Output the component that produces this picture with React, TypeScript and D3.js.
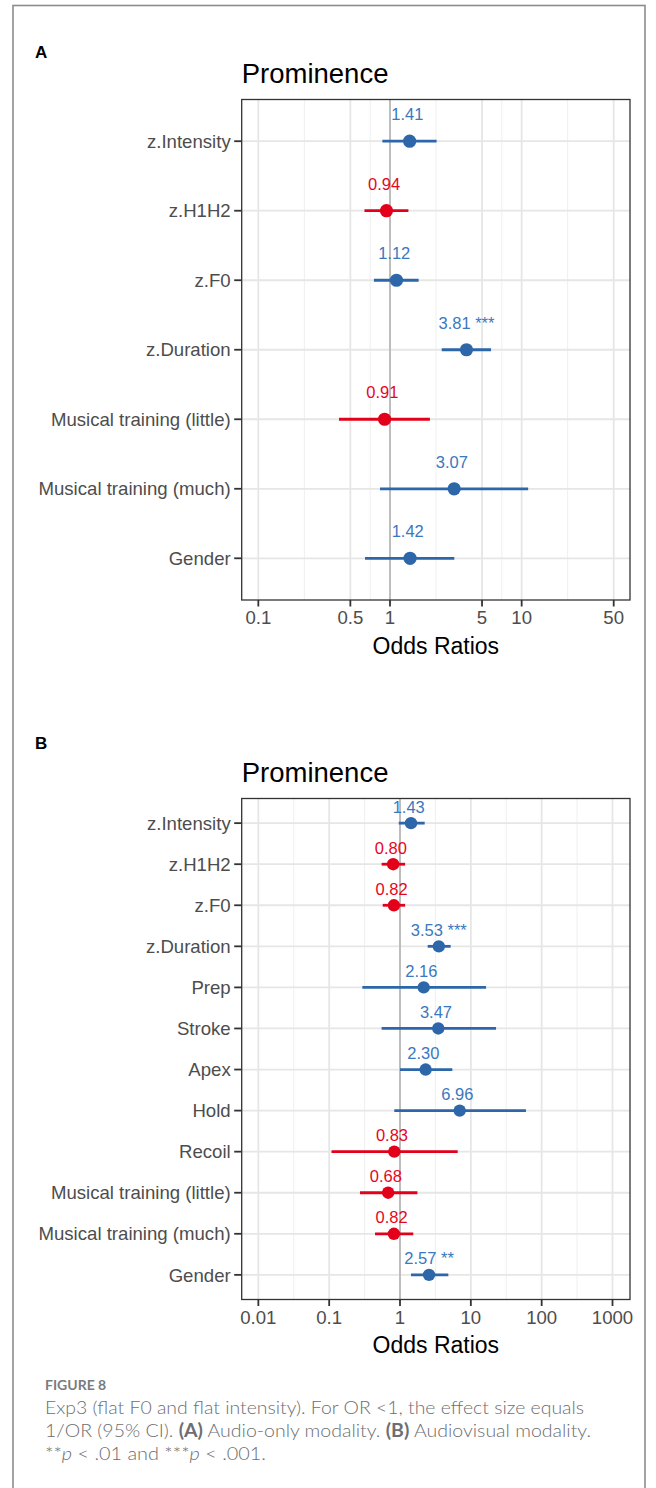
import React from "react";
import * as d3 from "d3";

// ---------- Data ----------
const catsA = ["z.Intensity", "z.H1H2", "z.F0", "z.Duration", "Musical training (little)", "Musical training (much)", "Gender"];
const orA = [1.41, 0.94, 1.12, 3.81, 0.91, 3.07, 1.42];
const loA = [0.875, 0.64, 0.755, 2.47, 0.41, 0.84, 0.646];
const hiA = [2.26, 1.38, 1.65, 5.85, 2.01, 11.2, 3.08];
const sigA = ["", "", "", "***", "", "", ""];
const ticksA = [0.1, 0.5, 1, 5, 10, 50];
const tickLabelsA = ["0.1", "0.5", "1", "5", "10", "50"];

const catsB = ["z.Intensity", "z.H1H2", "z.F0", "z.Duration", "Prep", "Stroke", "Apex", "Hold", "Recoil", "Musical training (little)", "Musical training (much)", "Gender"];
const orB = [1.43, 0.80, 0.82, 3.53, 2.16, 3.47, 2.30, 6.96, 0.83, 0.68, 0.82, 2.57];
const loB = [0.96, 0.55, 0.57, 2.46, 0.294, 0.55, 1.0, 0.83, 0.108, 0.272, 0.444, 1.43];
const hiB = [2.23, 1.18, 1.18, 5.19, 16.4, 22.7, 5.48, 60, 6.52, 1.76, 1.54, 4.81];
const sigB = ["", "", "", "***", "", "", "", "", "", "", "", "**"];
const ticksB = [0.01, 0.1, 1, 10, 100, 1000];
const tickLabelsB = ["0.01", "0.1", "1", "10", "100", "1000"];

const panelTitle = "Prominence";
const axisTitle = "Odds Ratios";

// ---------- Style ----------
const FONT = "'Liberation Sans', Arial, Helvetica, sans-serif";
const BLUE = "#2d67a9";
const RED = "#e2001a";
const BLUE_T = "#3a78c0";
const RED_T = "#e6061f";

interface PanelProps {
  letter: string;
  letterY: number;
  titleY: number;
  top: number;
  bottom: number;
  logMin: number;
  logMax: number;
  cats: string[];
  ors: number[];
  los: number[];
  his: number[];
  sigs: string[];
  ticks: number[];
  tickLabels: string[];
  labelOffset: number;
  r: number;
}

function Panel(p: PanelProps) {
  const left = 241.7;
  const right = 630;
  const x = d3.scaleLog().domain([Math.pow(10, p.logMin), Math.pow(10, p.logMax)]).range([left, right]);
  const y = d3.scalePoint<string>().domain(p.cats).range([p.top, p.bottom]).padding(0.6);
  const minor: number[] = [];
  const lt = p.ticks.map((t) => Math.log10(t));
  for (let i = 0; i < lt.length - 1; i++) minor.push((lt[i] + lt[i + 1]) / 2);
  minor.push(lt[0] - (lt[1] - lt[0]) / 2);
  minor.push(lt[lt.length - 1] + (lt[lt.length - 1] - lt[lt.length - 2]) / 2);
  const minorVis = minor.filter((m) => m > p.logMin && m < p.logMax).map((m) => Math.pow(10, m));

  return (
    <g>
      <text x={35} y={p.letterY} fontFamily={FONT} fontWeight="bold" fontSize={17} fill="#000">{p.letter}</text>
      <text x={left} y={p.titleY} fontFamily={FONT} fontSize={27.5} fill="#000">{panelTitle}</text>
      <rect x={left} y={p.top} width={right - left} height={p.bottom - p.top} fill="#fff" />
      {minorVis.map((v, i) => (
        <line key={"mn" + i} x1={x(v)} x2={x(v)} y1={p.top} y2={p.bottom} stroke="#efefef" strokeWidth={1} />
      ))}
      {p.ticks.map((v, i) => (
        <line key={"mj" + i} x1={x(v)} x2={x(v)} y1={p.top} y2={p.bottom} stroke="#e6e6e6" strokeWidth={1.8} />
      ))}
      {p.cats.map((c) => (
        <line key={"hg" + c} x1={left} x2={right} y1={y(c)} y2={y(c)} stroke="#e6e6e6" strokeWidth={1.8} />
      ))}
      <line x1={x(1)} x2={x(1)} y1={p.top} y2={p.bottom} stroke="#b3b3b3" strokeWidth={1.6} />
      {p.cats.map((c, i) => {
        const col = p.ors[i] < 1 ? RED : BLUE;
        const tcol = p.ors[i] < 1 ? RED_T : BLUE_T;
        const yy = y(c) as number;
        return (
          <g key={"pt" + c}>
            <line x1={x(p.los[i])} x2={x(p.his[i])} y1={yy} y2={yy} stroke={col} strokeWidth={2.8} />
            <circle cx={x(p.ors[i])} cy={yy} r={p.r} fill={col} />
            <text
              x={x(p.ors[i])}
              y={yy - p.labelOffset}
              textAnchor="middle"
              fontFamily={FONT}
              fontSize={16.5}
              fill={tcol}
              style={{ whiteSpace: "pre" }}
            >
              {p.ors[i].toFixed(2) + " " + p.sigs[i]}
            </text>
          </g>
        );
      })}
      <rect x={left} y={p.top} width={right - left} height={p.bottom - p.top} fill="none" stroke="#333" strokeWidth={1.3} />
      {p.cats.map((c) => (
        <g key={"yl" + c}>
          <line x1={left - 7.5} x2={left} y1={y(c)} y2={y(c)} stroke="#333" strokeWidth={1.8} />
          <text x={left - 11} y={(y(c) as number)} dy="0.36em" textAnchor="end" fontFamily={FONT} fontSize={18.6} fill="#4d4d4d">{c}</text>
        </g>
      ))}
      {p.ticks.map((v, i) => (
        <g key={"xt" + i}>
          <line x1={x(v)} x2={x(v)} y1={p.bottom} y2={p.bottom + 6.5} stroke="#333" strokeWidth={1.8} />
          <text x={x(v)} y={p.bottom + 24} textAnchor="middle" fontFamily={FONT} fontSize={18.6} fill="#4d4d4d">{p.tickLabels[i]}</text>
        </g>
      ))}
      <text x={(left + right) / 2} y={p.bottom + 53.5} textAnchor="middle" fontFamily={FONT} fontSize={23} fill="#000">{axisTitle}</text>
    </g>
  );
}

export default function App() {
  const capFont = "Lato, 'Open Sans', sans-serif";
  const capCol = "#6d6e71";
  return (
    <svg width={656} height={1488} style={{ position: "absolute", left: 0, top: 0, background: "#fff" }}>
      <rect x={0} y={0} width={656} height={1488} fill="#fff" />
      <rect x={13} y={5.5} width={632} height={1500} fill="none" stroke="#8c8c8c" strokeWidth={1.6} />
      <Panel
        letter="A" letterY={58} titleY={83} top={99.5} bottom={600}
        logMin={-1.1263} logMax={1.8228}
        cats={catsA} ors={orA} los={loA} his={hiA} sigs={sigA}
        ticks={ticksA} tickLabels={tickLabelsA} labelOffset={21} r={6.6}
      />
      <Panel
        letter="B" letterY={749} titleY={782} top={798.5} bottom={1299.5}
        logMin={-2.235} logMax={3.247}
        cats={catsB} ors={orB} los={loB} his={hiB} sigs={sigB}
        ticks={ticksB} tickLabels={tickLabelsB} labelOffset={10.5} r={6.2}
      />
      <text x={45} y={1390} fontFamily={capFont} fontWeight="bold" fontSize={14} fill="#7a7b7e">FIGURE 8</text>
      <text x={45} y={1413.5} fontFamily={capFont} fontWeight={300} fontSize={18} fill={capCol} textLength={539} lengthAdjust="spacingAndGlyphs">
        Exp3 (flat F0 and flat intensity). For OR &lt;1, the effect size equals
      </text>
      <text x={45} y={1436.5} fontFamily={capFont} fontWeight={300} fontSize={18} fill={capCol} textLength={546} lengthAdjust="spacingAndGlyphs">
        1/OR (95% CI). <tspan fontWeight="bold">(A)</tspan> Audio-only modality. <tspan fontWeight="bold">(B)</tspan> Audiovisual modality.
      </text>
      <text x={45} y={1459.5} fontFamily={capFont} fontWeight={300} fontSize={18} fill={capCol} textLength={221} lengthAdjust="spacingAndGlyphs">
        **<tspan fontStyle="italic">p</tspan> &lt; .01 and ***<tspan fontStyle="italic">p</tspan> &lt; .001.
      </text>
    </svg>
  );
}
